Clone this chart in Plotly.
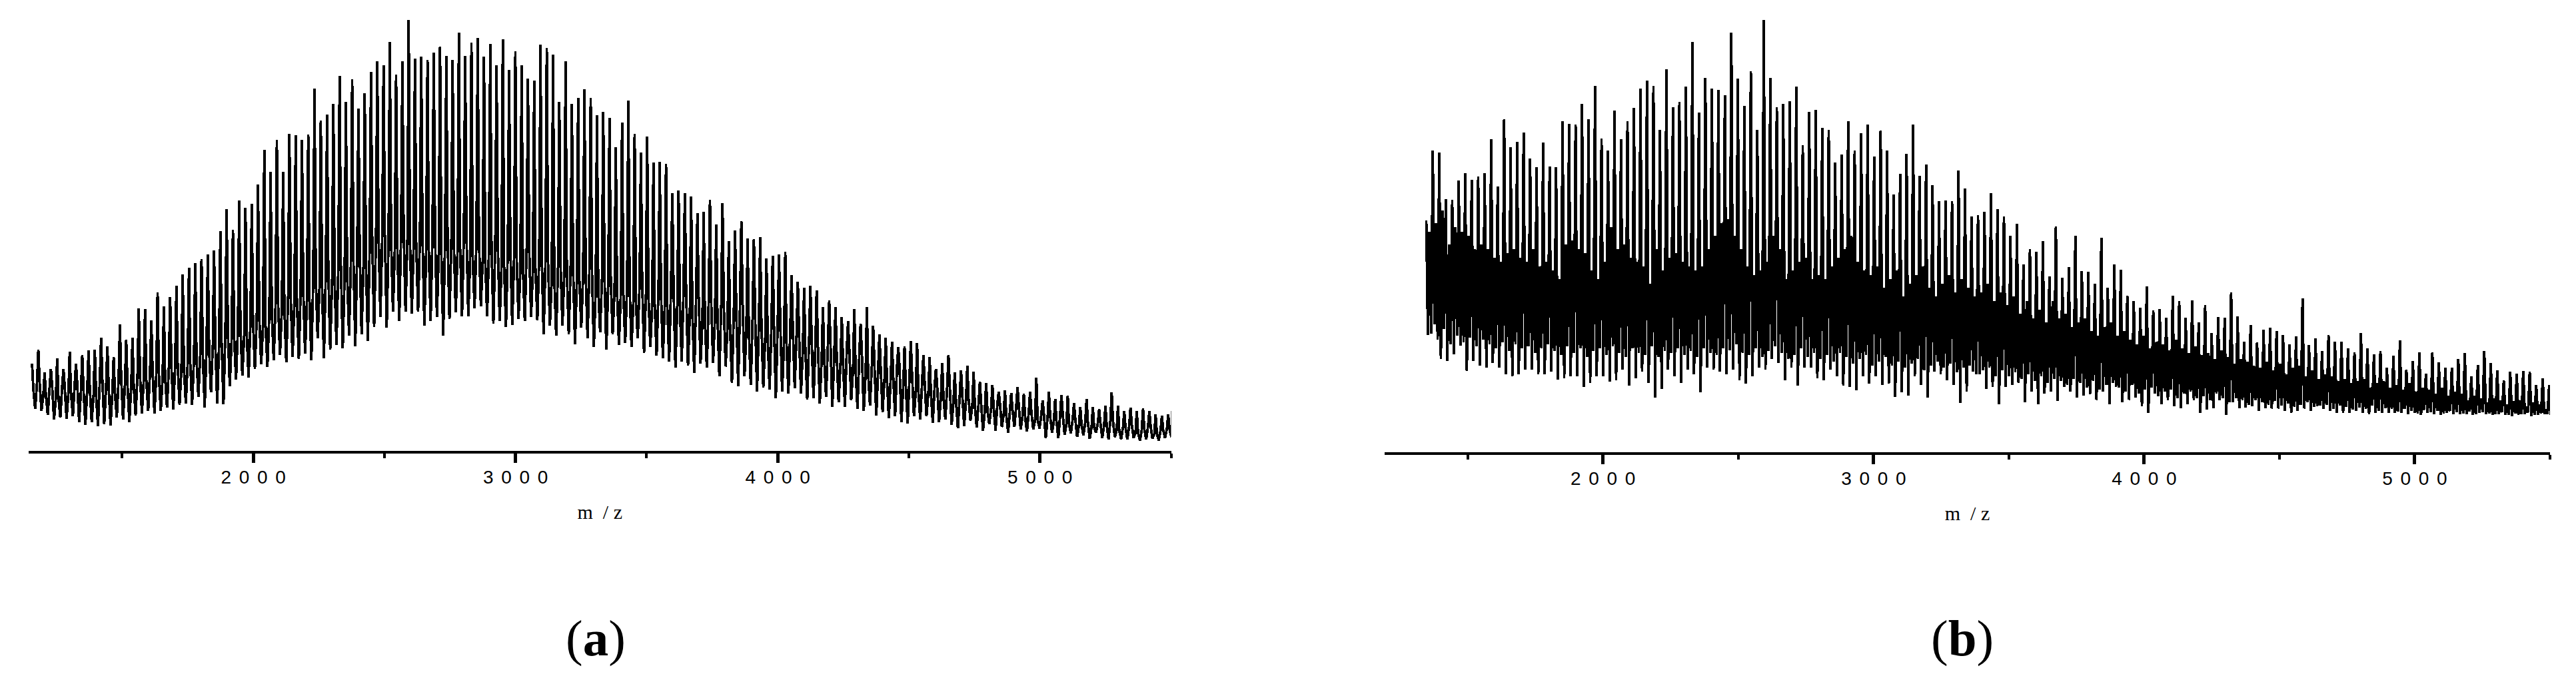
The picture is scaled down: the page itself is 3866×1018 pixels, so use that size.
import numpy as np
import plotly.graph_objects as go

# ---------- panel (a): heights, a.u. 0-1000 ----------
tops_a = [
202,234,182,190,214,190,230,202,222,
232,234,262,242,217,292,257,262,330,328,
302,366,334,356,382,408,424,434,444,454,
464,508,560,512,580,562,572,616,696,646,
720,646,734,730,720,732,838,764,778,802,
868,808,860,792,828,876,902,892,946,870,
902,997,907,912,904,922,936,914,904,967,
914,944,956,912,942,892,952,882,924,892,
862,856,940,932,917,808,902,802,817,837,
817,777,784,770,702,760,810,734,690,727,667,
669,664,
597,602,596,588,550,553,581,524,573,485,
510,531,492,490,495,445,452,454,460,406,
392,377,382,372,332,348,332,310,300,328,
294,332,290,270,262,252,240,242,254,250,
222,217,190,204,222,182,187,197,184,160,
157,152,137,140,134,147,132,137,170,117,
137,120,130,127,110,102,120,102,97,104,
136,104,92,100,92,98,92,84,82,84]
lows_a = [
97,92,84,72,77,74,80,67,60,
67,57,62,59,77,72,67,82,87,92,
87,92,100,95,107,110,107,125,100,135,
110,108,150,165,174,170,190,200,195,210,
222,205,218,212,225,210,260,215,235,245,
237,267,242,270,255,287,310,285,322,300,
322,318,322,290,300,310,267,305,320,312,
312,330,335,312,295,300,287,292,305,300,
310,302,270,290,267,290,270,247,285,260,
240,275,234,270,245,250,240,260,227,240,220,
215,207,
192,207,197,180,202,192,204,172,195,157,
150,172,152,137,147,142,122,137,132,145,
132,118,122,110,125,102,112,102,117,97,
92,105,82,90,75,80,67,64,80,72,
80,65,67,72,60,52,57,70,54,47,
62,47,55,42,55,50,45,50,52,30,
42,29,38,40,32,36,28,42,30,27,
32,27,26,30,24,26,28,24,30,32]
mids_a = [
145,160,130,150,125,150,135,155,140,
145,130,165,150,135,170,155,150,175,165,
185,180,170,195,200,190,205,215,225,240,
245,250,275,260,285,270,300,310,290,320,
340,330,360,345,375,350,400,380,415,395,
430,410,440,460,430,480,500,505,490,470,
510,490,480,500,470,505,460,490,480,470,
510,450,490,440,470,480,430,470,450,425,
470,420,450,440,400,430,415,420,395,410,
420,375,400,395,370,365,380,345,390,360,340,
370,335,
380,340,375,320,360,300,345,310,340,290,
320,345,280,310,295,260,290,300,250,285,
270,235,260,245,215,250,220,205,235,190,
225,180,200,190,165,170,195,150,175,140,
160,135,150,125,150,115,130,120,105,110,
95,100,110,85,95,105,80,90,72,85,
80,70,85,62,75,60,68,55,65,60,
70,48,55,60,42,50,58,40,48,52]

# ---------- panel (b) ----------
tops_b = [
536,698,694,586,584,628,646,630,638,646,
724,614,770,706,718,740,680,660,716,661,
660,766,760,758,806,770,848,726,698,790,
724,766,796,841,860,848,746,886,798,810,
846,949,786,866,842,838,826,971,864,801,
882,746,1000,866,798,806,812,846,710,788,
792,750,746,670,688,766,698,738,758,684,
744,698,596,644,691,758,640,666,618,581,
582,581,652,610,546,548,556,600,
562,546,501,528,434,470,464,488,406,522,
404,428,500,419,418,390,496,381,434,422,
362,350,334,384,328,331,311,362,350,311,
351,301,341,276,313,311,370,314,256,294,
254,284,288,280,271,250,268,356,248,264,
234,271,256,256,241,231,276,240,226,234,
196,224,259,191,211,231,181,231,208,196,
196,215,229,176,201,234,206,190,166,186,
181,188,186,156,171,156]
lows_b = [
271,296,216,211,226,246,188,211,201,196,
206,196,181,176,181,191,191,181,181,186,
168,171,176,176,151,161,176,176,164,166,
191,154,171,186,161,126,146,191,176,161,
191,181,138,196,191,186,181,191,166,158,
176,196,191,216,206,166,196,154,196,196,
171,166,191,176,154,151,144,176,158,176,
156,158,128,138,131,176,156,126,186,181,
166,156,114,141,186,181,146,151,
111,151,156,161,116,141,111,136,141,118,
151,141,126,131,134,121,141,111,151,116,
121,126,106,91,136,111,121,106,101,111,
121,91,98,101,121,86,116,101,104,106,
96,101,101,101,96,91,96,101,96,106,
101,96,91,91,91,96,91,88,91,91,
91,91,91,88,91,86,91,88,86,91,
88,88,88,86,91,88,86,88,86,84,
86,88,84,86,88,86]
mids_b = [
510,530,560,480,520,510,500,470,480,470,
450,440,460,470,450,440,470,430,440,420,
400,480,490,470,460,420,400,440,520,470,
480,450,440,430,390,470,420,450,460,440,
430,420,430,470,500,530,540,500,470,430,
410,420,440,500,470,400,420,440,450,400,
410,400,430,450,470,500,440,420,410,430,
380,400,420,360,390,410,430,380,360,390,
410,370,400,380,360,370,390,350,
370,340,360,320,350,310,330,300,350,310,
320,290,300,310,280,270,290,300,270,280,
260,250,270,240,255,250,235,260,240,230,
245,225,230,215,235,220,205,215,210,200,
195,210,190,205,180,195,200,175,190,170,
180,175,165,170,160,165,170,150,160,165,
150,155,145,160,140,150,145,135,150,130,
140,135,120,130,125,115,125,120,110,118,
120,105,115,110,100,112]
floors_b = [
275,260,285,250,270,255,265,245,260,250,
240,255,235,250,240,245,230,240,250,235,
225,245,230,240,220,235,240,225,245,230,
220,240,230,225,245,220,235,230,240,225,
235,220,240,230,225,240,235,250,230,225,
240,220,235,245,230,215,225,240,220,230,
215,225,210,230,220,205,215,225,200,210,
220,200,210,195,205,215,190,200,210,195,
205,185,195,200,180,190,195,175,
190,175,185,170,180,165,175,160,170,165,
155,170,160,150,165,145,155,160,150,140,
155,135,145,150,130,140,145,125,135,140,
125,130,120,135,125,115,125,120,110,120,
115,110,118,108,112,105,110,115,105,108,
110,100,108,105,98,104,100,108,96,102,
100,94,100,96,90,98,92,96,90,95,
92,90,94,88,92,90,88,92,86,90,
88,92,86,90,88,90]

SEP = "\u2004\u200a"
major_ticks = [2000, 3000, 4000, 5000]
major_labels = [SEP.join(str(v)) for v in major_ticks]
minor_ticks = [1500, 2500, 3500, 4500, 5500]

W, H = 3866, 1018


def zigzag(first, last, parts, fractions):
    n = len(parts[0])
    centres = np.linspace(first, last, n)
    step = (last - first) / (n - 1)
    xs, ys = [], []
    for i in range(n):
        for part, frac in zip(parts, fractions):
            xs.append(centres[i] + step * frac)
            ys.append(part[i])
    return xs, ys


xa, ya = zigzag(1156, 5489, [tops_a, mids_a, lows_a, mids_a[1:] + mids_a[:1]], [0, 0.2, 0.5, 0.8])
xb, yb = zigzag(1347, 5497, [tops_b, lows_b, mids_b, floors_b], [0, 0.25, 0.5, 0.75])

fig = go.Figure()
fig.add_trace(go.Scatter(x=xa, y=ya, mode="lines", line=dict(color="black", width=3.8), xaxis="x", yaxis="y", hoverinfo="skip"))
fig.add_trace(go.Scatter(x=xb, y=yb, mode="lines", line=dict(color="black", width=3.8), xaxis="x2", yaxis="y2", hoverinfo="skip"))


def xax(rng, x0, x1, anchor):
    return dict(
        domain=[x0 / W, x1 / W], range=rng, anchor=anchor, showgrid=False, zeroline=False,
        showline=True, linecolor="black", linewidth=4,
        tickmode="array", tickvals=major_ticks, ticktext=major_labels,
        ticks="outside", ticklen=14, tickwidth=5, tickcolor="black",
        ticklabelstandoff=-3,
        tickfont=dict(family="Liberation Sans", size=28, color="black"),
        minor=dict(tickmode="array", tickvals=minor_ticks, ticks="outside", ticklen=7, tickwidth=4, tickcolor="black"),
        title=dict(text="m\u2002/ z", font=dict(family="Liberation Serif", size=30, color="black"), standoff=28),
    )


def yax(bottom, top, anchor):
    return dict(domain=[(H - bottom) / H, (H - top) / H], range=[0, 1000], anchor=anchor, visible=False)


fig.update_layout(
    width=W, height=H, autosize=False, showlegend=False,
    paper_bgcolor="white", plot_bgcolor="white",
    margin=dict(l=0, r=0, t=0, b=0),
    xaxis=xax([1143, 5500], 43, 1757.5, "y"),
    xaxis2=xax([1193, 5500], 2078, 3827, "y2"),
    yaxis=yax(677, 28, "x"),
    yaxis2=yax(679, 30, "x2"),
    annotations=[
        dict(text="(<b>a</b>)", x=894 / W, y=(H - 958) / H, xref="paper", yref="paper", showarrow=False,
             xanchor="center", yanchor="middle", font=dict(family="Liberation Serif", size=77, color="black")),
        dict(text="(<b>b</b>)", x=2945 / W, y=(H - 958) / H, xref="paper", yref="paper", showarrow=False,
             xanchor="center", yanchor="middle", font=dict(family="Liberation Serif", size=77, color="black")),
    ],
)
fig.write_html(
    "out.html",
    config={"displayModeBar": False},
    post_script="document.body.style.margin='0';document.documentElement.style.overflow='hidden';"
    "document.querySelectorAll('.js-line').forEach(function(p){p.style.shapeRendering='crispEdges';});",
)
